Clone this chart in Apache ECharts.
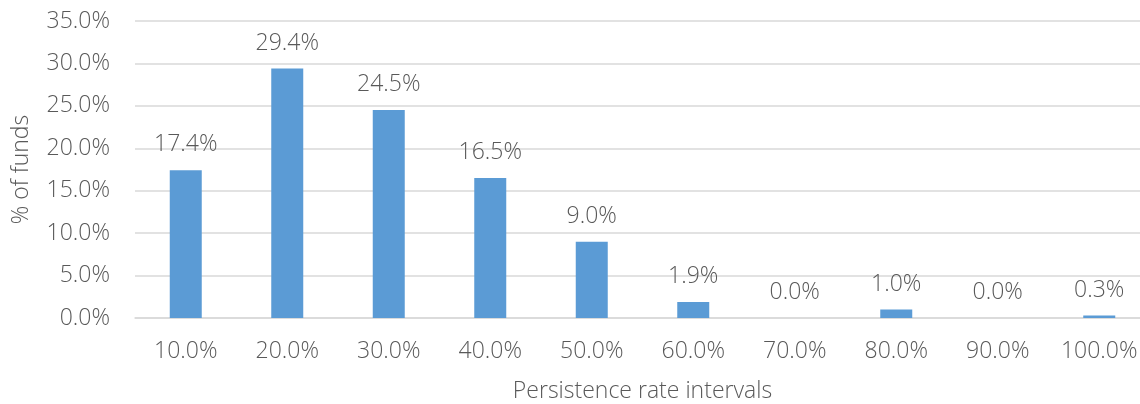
<!DOCTYPE html>
<html>
<head>
<meta charset="utf-8">
<script src="https://cdn.jsdelivr.net/npm/echarts@6/dist/echarts.min.js"></script>
<style>
  html, body { margin: 0; padding: 0; background: #fff; overflow: hidden; }
  #chart { width: 1140px; height: 404px; }
</style>
</head>
<body>
<div id="chart"></div>
<script>
// Persistence rate intervals (x axis categories)
const categories = ['10.0%', '20.0%', '30.0%', '40.0%', '50.0%', '60.0%', '70.0%', '80.0%', '90.0%', '100.0%'];
// Share of funds in each interval, in percent
const shareOfFunds = [17.4, 29.4, 24.5, 16.5, 9.0, 1.9, 0.0, 1.0, 0.0, 0.3];

const textColor = '#595959';
const fontFamily = '"Open Sans", "Noto Sans", sans-serif';
const fontSize = 23;
const fontWeight = 300;

const chart = echarts.init(document.getElementById('chart'));
chart.setOption({
  animation: false,
  textStyle: { fontFamily: fontFamily },
  // plot area runs slightly past the right edge of the canvas
  grid: { left: 135, right: -10, top: 21, bottom: 86, outerBoundsMode: 'none' },
  xAxis: {
    type: 'category',
    data: categories,
    name: 'Persistence rate intervals',
    nameLocation: 'middle',
    nameGap: 62,
    nameTextStyle: { color: textColor, fontSize: fontSize, fontWeight: fontWeight, fontFamily: fontFamily },
    axisLine: { lineStyle: { color: '#d9d9d9', width: 1.5 } },
    axisTick: { show: false },
    axisLabel: { color: textColor, fontSize: fontSize, fontWeight: fontWeight, margin: 22, fontFamily: fontFamily },
    axisPointer: { show: false }
  },
  yAxis: {
    type: 'value',
    min: 0,
    max: 35,
    interval: 5,
    name: '% of funds',
    nameLocation: 'middle',
    nameGap: 102,
    nameRotate: 90,
    nameTextStyle: { color: textColor, fontSize: fontSize, fontWeight: fontWeight, fontFamily: fontFamily },
    axisLine: { show: false },
    axisTick: { show: false },
    axisLabel: {
      color: textColor,
      fontSize: fontSize,
      fontWeight: fontWeight,
      margin: 25,
      fontFamily: fontFamily,
      formatter: v => v.toFixed(1) + '%'
    },
    splitLine: { lineStyle: { color: '#d9d9d9', width: 1.5 } }
  },
  series: [{
    type: 'bar',
    data: shareOfFunds,
    barWidth: 32,
    itemStyle: { color: '#5b9bd5' },
    label: {
      show: true,
      position: 'top',
      distance: 14,
      color: textColor,
      fontSize: fontSize,
      fontWeight: fontWeight,
      fontFamily: fontFamily,
      formatter: p => p.value.toFixed(1) + '%'
    }
  }]
});
</script>
</body>
</html>
